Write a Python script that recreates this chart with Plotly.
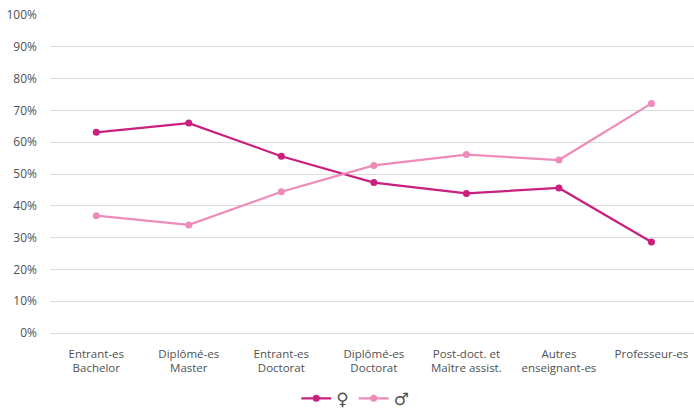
import plotly.graph_objects as go

categories = ["Entrant-es<br>Bachelor", "Diplômé-es<br>Master", "Entrant-es<br>Doctorat",
              "Diplômé-es<br>Doctorat", "Post-doct. et<br>Maître assist.", "Autres<br>enseignant-es",
              "Professeur-es"]
female = [0.631, 0.660, 0.556, 0.473, 0.439, 0.456, 0.286]
male = [0.369, 0.340, 0.444, 0.527, 0.561, 0.544, 0.722]

fig = go.Figure()
fig.add_trace(go.Scatter(x=categories, y=female, name="♀", mode="lines+markers",
                         line=dict(color="#c9207f", width=2.2), marker=dict(size=7, color="#c9207f")))
fig.add_trace(go.Scatter(x=categories, y=male, name="♂", mode="lines+markers",
                         line=dict(color="#ee8bb9", width=2.2), marker=dict(size=7, color="#ee8bb9")))

fig.update_layout(
    width=694, height=409,
    margin=dict(l=50, r=0, t=15, b=76),
    paper_bgcolor="white", plot_bgcolor="white",
    font=dict(family="Open Sans", size=12, color="#505050"),
    showlegend=True,
    legend=dict(orientation="h", x=0.474, xanchor="center", yref="container", y=0.025, yanchor="middle",
                font=dict(family="DejaVu Sans", size=17, color="#505050"), itemwidth=30, tracegroupgap=0),
)
fig.update_xaxes(showgrid=False, showline=False, ticks="", automargin=False, ticklabelstandoff=12,
                 tickfont=dict(size=11.5, color="#505050"), range=[-0.5, 6.46])
fig.update_yaxes(range=[0, 1], tickformat=".0%", dtick=0.1, showgrid=True, gridcolor="#dcdcdc",
                 gridwidth=1, zeroline=True, zerolinecolor="#dcdcdc", zerolinewidth=1, automargin=False,
                 ticklabelstandoff=12, tickfont=dict(size=12, color="#505050"))
fig.update_traces(cliponaxis=False)

fig.write_html("out.html", config={"displayModeBar": False},
               post_script="document.body.style.margin='0';document.body.style.overflow='hidden';")
